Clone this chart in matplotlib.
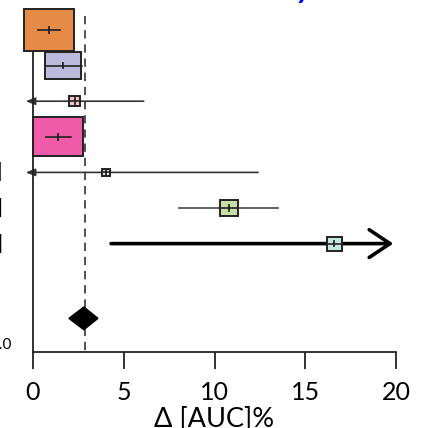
import matplotlib
matplotlib.use("Agg")
import matplotlib.pyplot as plt
from matplotlib.patches import Rectangle, Polygon

plt.rcParams['font.family'] = ['Lato', 'DejaVu Sans']

# Study estimates (Δ AUC %)
estimates = [0.90, 1.65, 2.30, 1.38, 4.02, 10.80, 16.60]
ci_low = [0.27, 0.72, -3.0, 0.72, -3.0, 8.04, 4.30]
ci_high = [1.49, 2.70, 6.10, 2.09, 12.40, 13.50, 24.0]
box_width = [2.75, 1.98, 0.61, 2.75, 0.39, 0.99, 0.83]
box_height = [1.18, 0.76, 0.28, 1.10, 0.20, 0.45, 0.39]
box_colors = ['#E68B45', '#BCBBDE', '#F6C4C8', '#EF5BA8', '#E4E4E4', '#C6E0A8', '#C8E6E0']
ci_labels = ['[0.3, 1.5]', '[0.7, 2.7]', '[-3.0, 6.1]', '[0.7, 2.1]',
             '[-3.0, 12.4]', '[8.0, 13.5]', '[4.3, 24.0]']
row_pos = [0, 1, 2, 3, 4, 5, 6]

# Pooled estimate
pooled = 2.80
pooled_low = 1.98
pooled_high = 3.58
pooled_pos = 8.1
ref_line = 2.85

xticks = [0, 5, 10, 15, 20]
x_min, x_max = 0, 20

fig = plt.figure(figsize=(4.41, 4.28), dpi=100)
ax = fig.add_axes([33 / 441, 1 - 352 / 428, 363 / 441, 343 / 428])
ax.set_xlim(x_min, x_max)
ax.set_ylim(9.045, -0.59)

for sp in ['top', 'right']:
    ax.spines[sp].set_visible(False)
for sp in ['left', 'bottom']:
    ax.spines[sp].set_linewidth(1.3)
    ax.spines[sp].set_color('#222222')

ax.set_yticks([])
ax.set_xticks(xticks)
ax.set_xticklabels([str(t) for t in xticks])
ax.tick_params(axis='x', direction='out', length=12, width=1.3, pad=9,
               labelsize=18, color='#222222')
ax.set_xlabel('Δ [AUC]%', fontsize=19.5, labelpad=2)

# reference line through the pooled estimate
ax.plot([ref_line, ref_line], [-0.39, 9.045], ls=(0, (5, 3.5)), lw=1.2,
        color='#333333', zorder=1)

for y, est, lo, hi, w, h, c in zip(row_pos, estimates, ci_low, ci_high,
                                   box_width, box_height, box_colors):
    thick = hi > x_max
    lw = 2.6 if thick else 1.2
    lcol = 'black' if thick else '#444444'
    lo_draw = max(lo, -0.4)
    hi_draw = min(hi, 19.85)
    if lo < x_min:
        ax.annotate('', xy=(lo_draw, y), xytext=(hi_draw, y),
                    arrowprops=dict(arrowstyle='-|>,head_length=0.55,head_width=0.22',
                                    lw=1.2, color='#333333', shrinkA=0, shrinkB=0,
                                    mutation_scale=10),
                    annotation_clip=False, zorder=2)
    elif hi > x_max:
        ax.annotate('', xy=(hi_draw, y), xytext=(lo_draw, y),
                    arrowprops=dict(arrowstyle='->,head_length=0.75,head_width=0.5',
                                    lw=lw, color=lcol, shrinkA=0, shrinkB=0,
                                    mutation_scale=20),
                    annotation_clip=False, zorder=2)
    else:
        ax.plot([lo, hi], [y, y], lw=lw, color=lcol, zorder=2, clip_on=False)
    ax.add_patch(Rectangle((est - w / 2, y - h / 2), w, h, facecolor=c,
                           edgecolor='#222222', lw=1.4, zorder=3, clip_on=False))
    # inner CI segment and centre mark drawn over the box
    seg_lo = max(lo, est - w / 2)
    seg_hi = min(hi, est + w / 2)
    ax.plot([seg_lo, seg_hi], [y, y], lw=1.2, color='#222222', zorder=4, clip_on=False)
    ax.plot([est, est], [y - 0.08, y + 0.08], lw=1.3, color='#222222', zorder=4,
            clip_on=False)

ax.add_patch(Polygon([[pooled_low, pooled_pos], [pooled, pooled_pos - 0.32],
                      [pooled_high, pooled_pos], [pooled, pooled_pos + 0.32]],
                     closed=True, facecolor='black', edgecolor='black', zorder=5,
                     clip_on=False))

# CI text column to the left of the plot
for y, lab in zip(row_pos[4:], ci_labels[4:]):
    ax.text(-1.66, y, lab, ha='right', va='center', fontsize=15,
            family='DejaVu Sans', clip_on=False)
ax.text(-1.15, 8.85, '1.0', ha='right', va='center', fontsize=11)

fig.text(312 / 441, 1 + 2 / 428, 'Summary', color='blue', fontsize=22,
         fontweight='bold', style='italic', ha='right', va='baseline')

fig.savefig('out.png', dpi=100)
